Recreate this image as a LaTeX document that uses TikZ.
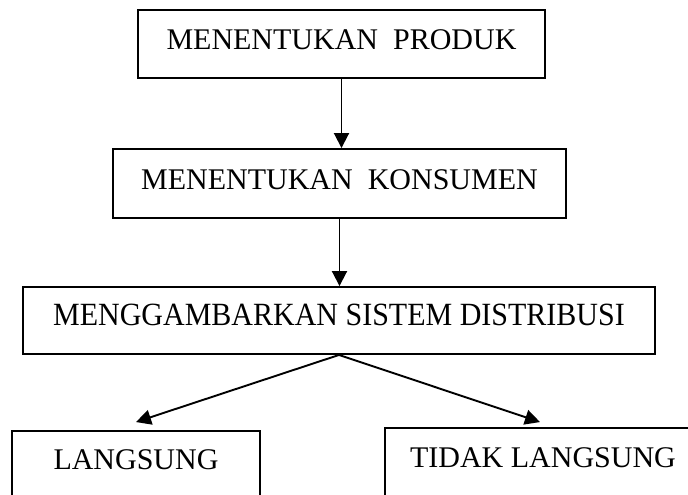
\documentclass[tikz,border=0pt]{standalone}
\usepackage{fontspec}
\setmainfont{Liberation Serif}
\usetikzlibrary{calc,arrows.meta}

\begin{document}
\begin{tikzpicture}[x=1pt,y=-1pt, line width=1.9pt,
	box/.style={draw, rectangle, inner sep=0pt, font=\fontsize{30}{31}\selectfont},
	>={Triangle[length=15pt,width=15pt]}]
\useasboundingbox (0,0) rectangle (688,495);
\clip (0,0) rectangle (688,495);

\node[box, minimum width=407pt, text height=40pt, text depth=28pt] (produk) at (341.5,44) {MENENTUKAN\ \ PRODUK};
\node[box, minimum width=453pt, text height=40pt, text depth=29pt] (konsumen) at (339.5,183.5) {MENENTUKAN\ \ KONSUMEN};
\node[box, minimum width=632pt, text height=38pt, text depth=29pt] (distribusi) at (339,320.5) {\scalebox{1}[1.08]{MENGGAMBARKAN SISTEM DISTRIBUSI}};
\node[box, minimum width=248pt, text height=38pt, text depth=30pt] (langsung) at (136,465) {LANGSUNG};
\node[box, minimum width=316pt, text height=39pt, text depth=30pt] (tidak) at (543,462.5) {TIDAK LANGSUNG};

\draw[->] (produk.south) -- (produk.south |- konsumen.north);
\draw[->] (konsumen.south) -- (konsumen.south |- distribusi.north);
\draw[->] (distribusi.south) -- ($(langsung.north)+(0,-8)$);
\draw[->] (distribusi.south) -- ($(tidak.north)+(-3,-5)$);
\end{tikzpicture}
\end{document}
